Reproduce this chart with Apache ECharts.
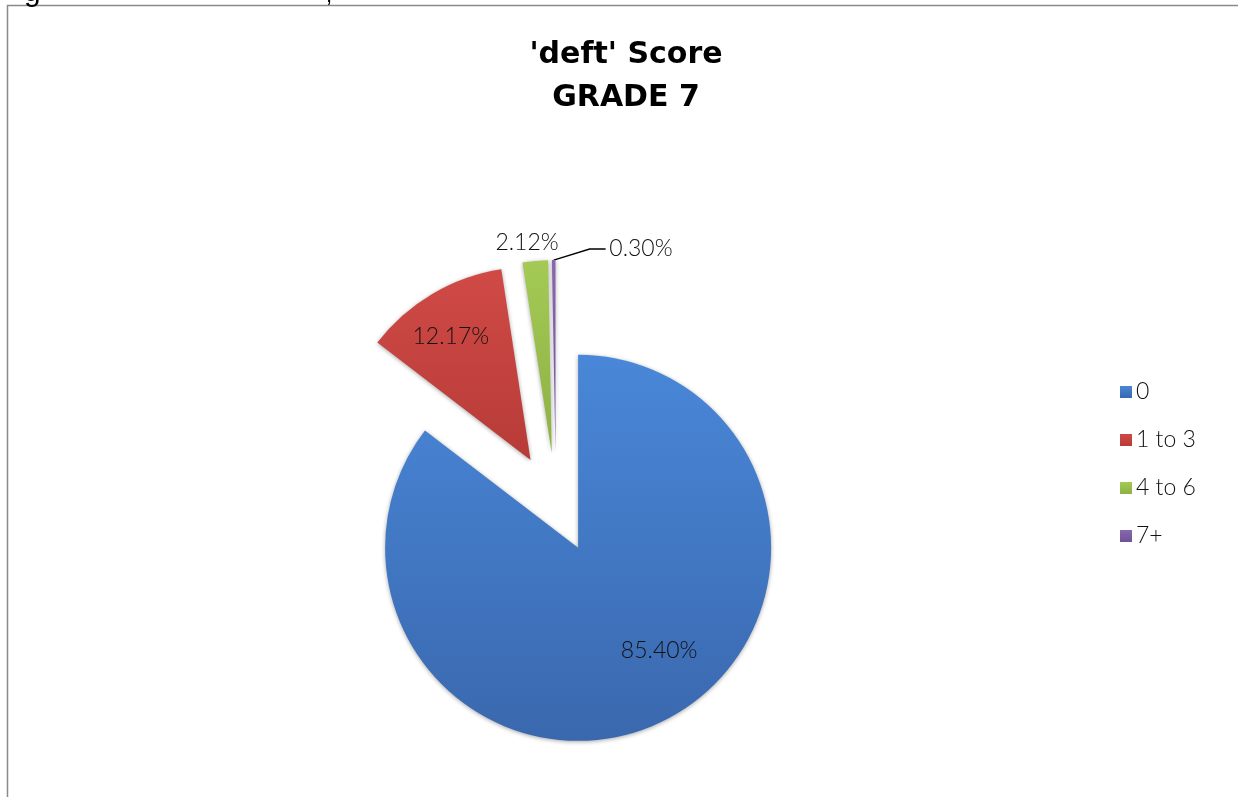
<!DOCTYPE html>
<html>
<head>
<meta charset="utf-8">
<script src="https://cdn.jsdelivr.net/npm/echarts@6/dist/echarts.min.js"></script>
<style>
html,body{margin:0;padding:0;background:#fff;}
#chart{width:1238px;height:797px;}
</style>
</head>
<body>
<div id="chart"></div>
<script>
// ---- data ----
const titleLines = ["'deft' Score", "GRADE 7"];
const categories = ["0", "1 to 3", "4 to 6", "7+"];
const percentages = [85.40, 12.17, 2.12, 0.30];
const sliceColors = [
  ["#4987D8", "#3A68AE"],
  ["#D04A46", "#B73B38"],
  ["#A4CA55", "#8DB043"],
  ["#8868B0", "#6F5296"]
];

const labelFont = "Lato, 'Liberation Sans', sans-serif";

// per-slice label placement (styling only)
const labelStyles = [
  { position: 'inside', padding: [0, 0, 0, 74], before: 1, after: 0, lineHeight: 28 },
  { position: 'inside', padding: [0, 58, 0, 0], before: 0, after: 3, lineHeight: 25 },
  { position: 'outside', distanceToLabelLine: -25, line: { show: false, length: 18, length2: 0, turn: 0 } },
  { position: 'outside', distanceToLabelLine: -67, line: { show: true, length: 11, length2: -52, turn: 163 } }
];

function grad(c) {
  return new echarts.graphic.LinearGradient(0, 0, 0, 1, [
    { offset: 0, color: c[0] }, { offset: 1, color: c[1] }
  ]);
}

const fmt = v => v.toFixed(2) + '%';

const pieData = categories.map((name, i) => {
  const ls = labelStyles[i];
  const item = {
    name: name,
    value: percentages[i],
    selected: true,
    itemStyle: { color: grad(sliceColors[i]) },
    label: { position: ls.position }
  };
  if (ls.padding) item.label.padding = ls.padding;
  if (ls.lineHeight) {
    item.label.lineHeight = ls.lineHeight;
    const b = '\n'.repeat(ls.before || 0), a = '\n'.repeat(ls.after || 0);
    item.label.formatter = p => b + fmt(p.value) + a;
  }
  if (ls.distanceToLabelLine !== undefined) item.label.distanceToLabelLine = ls.distanceToLabelLine;
  if (ls.line) {
    item.labelLine = {
      show: ls.line.show, length: ls.line.length, length2: ls.line.length2,
      minTurnAngle: ls.line.turn, maxSurfaceAngle: 180,
      lineStyle: { color: '#000', width: 1.3 }
    };
  }
  return item;
});

const chart = echarts.init(document.getElementById('chart'), null, { renderer: 'canvas' });
chart.setOption({
  backgroundColor: '#ffffff',
  animation: false,
  color: sliceColors.map(c => c[0]),
  title: {
    text: titleLines.join('\n'),
    left: 621,
    textAlign: 'center',
    top: 29,
    textStyle: {
      fontFamily: "'DejaVu Sans', sans-serif",
      fontWeight: 'bold',
      fontSize: 30,
      lineHeight: 43,
      color: '#000'
    }
  },
  legend: {
    orient: 'vertical',
    left: 1115,
    top: 375,
    icon: 'rect',
    itemWidth: 12,
    itemHeight: 12,
    itemGap: 24,
    selectedMode: false,
    data: categories,
    textStyle: {
      fontFamily: labelFont,
      fontWeight: 300,
      fontSize: 23,
      lineHeight: 24,
      color: '#111',
      padding: [0, 0, 0, -1]
    }
  },
  graphic: [
    {
      type: 'rect',
      shape: { x: 7.5, y: 5.5, width: 1240, height: 800 },
      style: { fill: 'none', stroke: '#8a8a8a', lineWidth: 1.5 },
      silent: true
    },
    {
      type: 'text',
      style: { text: 'g', x: 24, y: 8, fontSize: 30, fontFamily: "'Liberation Sans', sans-serif", verticalAlign: 'bottom', fill: '#000' },
      silent: true
    },
    {
      type: 'text',
      style: { text: ',', x: 326, y: 7, fontSize: 22, fontFamily: "'Liberation Sans', sans-serif", verticalAlign: 'bottom', fill: '#000' },
      silent: true
    }
  ],
  series: [{
    type: 'pie',
    center: [556, 503],
    radius: 193,
    startAngle: 90,
    clockwise: true,
    selectedMode: 'multiple',
    selectedOffset: 50,
    avoidLabelOverlap: false,
    minShowLabelAngle: 0,
    emphasis: { disabled: true },
    select: { itemStyle: { borderWidth: 0 } },
    itemStyle: {
      borderWidth: 0,
      shadowBlur: 4,
      shadowColor: 'rgba(0,0,0,0.35)',
      shadowOffsetX: 0,
      shadowOffsetY: 1
    },
    label: {
      show: true,
      formatter: p => fmt(p.value),
      fontFamily: labelFont,
      fontWeight: 300,
      fontSize: 23,
      color: '#111'
    },
    labelLine: { show: true },
    data: pieData
  }]
});
</script>
</body>
</html>
